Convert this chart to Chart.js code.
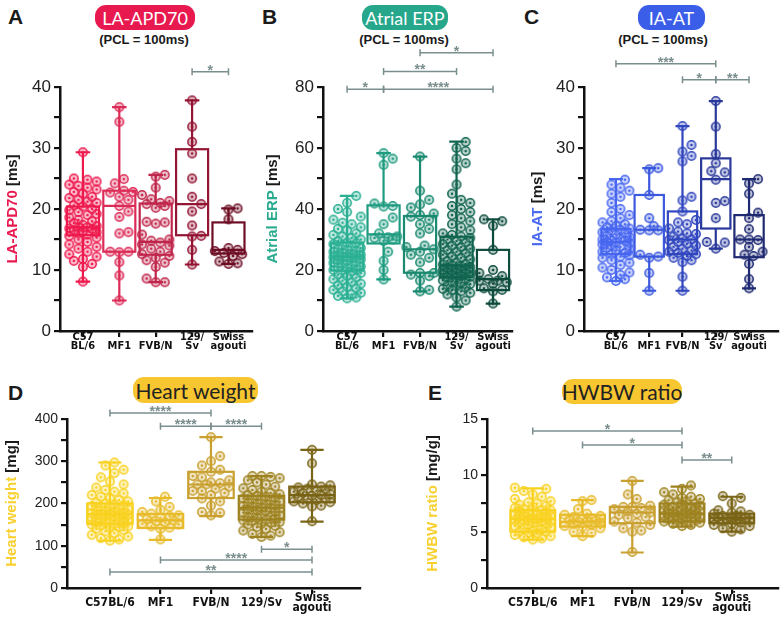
<!DOCTYPE html>
<html>
<head>
<meta charset="utf-8">
<script src="https://cdn.jsdelivr.net/npm/chart.js@4.4.0/dist/chart.umd.min.js"></script>
<style>
  body { margin: 0; background: #fff; width: 784px; height: 625px; position: relative; overflow: hidden; font-family: 'Liberation Sans', Arial, sans-serif; color: #1a1a1a; }
  canvas { position: absolute; }
  .letter { position: absolute; font-weight: bold; font-size: 21px; line-height: 21px; }
  .pill { position: absolute; border-radius: 11px; display: flex; align-items: center; justify-content: center; font-family: Lato, 'Open Sans', sans-serif; white-space: nowrap; }
  .pcl { position: absolute; font-weight: bold; font-size: 13px; line-height: 14px; transform: translateX(-50%); white-space: nowrap; }
</style>
</head>
<body>
<div class="letter" style="left:8px;top:6px">A</div>
<div class="letter" style="left:262px;top:6px">B</div>
<div class="letter" style="left:524px;top:6px">C</div>
<div class="letter" style="left:8px;top:382px">D</div>
<div class="letter" style="left:428px;top:382px">E</div>

<div class="pill" style="left:95px;top:5px;width:100px;height:25px;background:#e8194f;color:#fff;font-size:18px">LA-APD70</div>
<div class="pill" style="left:362px;top:5px;width:86px;height:25px;background:#26a68a;color:#fff;font-size:18px">Atrial ERP</div>
<div class="pill" style="left:638px;top:5px;width:67px;height:25px;background:#3b5ee8;color:#fff;font-size:18px">IA-AT</div>
<div class="pill" style="left:133px;top:377px;width:125px;height:26px;background:#f8c630;color:#222;font-size:21px">Heart weight</div>
<div class="pill" style="left:562px;top:379px;width:120px;height:25px;background:#f8c630;color:#222;font-size:21px">HWBW ratio</div>

<div class="pcl" style="left:144px;top:33px">(PCL = 100ms)</div>
<div class="pcl" style="left:404px;top:33px">(PCL = 100ms)</div>
<div class="pcl" style="left:663px;top:33px">(PCL = 100ms)</div>

<canvas id="cA" width="258" height="368" style="left:0;top:0"></canvas>
<canvas id="cB" width="258" height="368" style="left:262px;top:0"></canvas>
<canvas id="cC" width="261" height="368" style="left:523px;top:0"></canvas>
<canvas id="cD" width="390" height="265" style="left:0;top:360px"></canvas>
<canvas id="cE" width="394" height="265" style="left:390px;top:360px"></canvas>

<script>
// strain labels
const strainsTop = [['C57', 'BL/6'], 'MF1', 'FVB/N', ['129/', 'Sv'], ['Swiss', 'agouti']];
const strainsBottom = ['C57BL/6', 'MF1', 'FVB/N', '129/Sv', ['Swiss', 'agouti']];

// A: LA-APD70 [ms]
const apdC57 = [29.3, 25.0, 24.8, 24.5, 24.0, 23.8, 23.5, 23.2, 22.8, 22.5, 22.0, 21.8, 21.5, 21.2, 21.0, 20.6, 20.4, 20.0, 19.8, 19.5, 19.2, 19.0, 18.6, 18.2, 18.0, 17.7, 17.4, 17.2, 17.0, 17.0, 16.8, 16.7, 16.5, 16.4, 16.2, 16.0, 15.8, 15.6, 15.3, 15.0, 14.6, 14.2, 13.8, 13.5, 13.0, 12.6, 12.2, 11.8, 11.5, 11.0, 10.5, 8.1];
const apdMF1 = [36.7, 34.3, 24.9, 24.2, 23.0, 22.8, 22.7, 22.0, 21.5, 20.5, 19.6, 18.7, 16.2, 16.0, 13.0, 13.0, 12.9, 11.3, 9.1, 5.0];
const apdFVB = [25.6, 25.3, 23.5, 22.3, 21.6, 21.3, 21.0, 20.8, 20.5, 20.2, 17.9, 17.8, 17.6, 15.8, 15.0, 14.8, 14.5, 14.2, 14.0, 13.5, 13.0, 12.6, 12.3, 12.0, 11.6, 11.2, 10.5, 8.6, 8.0, 8.0];
const apd129 = [37.8, 33.5, 31.0, 29.1, 25.0, 22.0, 20.8, 19.6, 17.3, 15.6, 15.5, 13.3, 10.9];
const apdSwiss = [20.1, 19.9, 18.3, 13.6, 13.3, 13.1, 12.8, 12.6, 12.3, 11.4, 11.1, 11.0];
// min, q1, median, q3, max
const apdBox = [[8.1, 15.7, 17.0, 20.4, 29.3], [5.0, 13.0, 20.5, 23.0, 36.7], [8.0, 12.5, 14.6, 20.9, 25.6], [10.9, 15.7, 20.8, 29.8, 37.8], [11.0, 12.7, 13.3, 17.8, 20.1]];
const apdSig = [[3, 4, 42.5, '*']];

// B: Atrial ERP [ms]
const erpC57 = [44.3, 42.0, 40.0, 39.0, 37.5, 36.5, 35.5, 35.0, 34.0, 33.5, 33.0, 32.0, 31.5, 31.0, 30.5, 30.0, 29.5, 29.0, 28.8, 28.5, 28.0, 27.6, 27.2, 27.0, 26.5, 26.2, 26.0, 25.6, 25.2, 25.0, 24.8, 24.5, 24.4, 24.2, 24.0, 23.8, 23.5, 23.2, 23.0, 22.6, 22.3, 22.0, 21.6, 21.2, 21.0, 20.6, 20.2, 20.0, 19.8, 19.5, 19.0, 18.5, 18.0, 17.5, 17.0, 16.5, 16.0, 15.5, 15.0, 14.5, 14.0, 13.5, 13.0, 12.5, 12.0, 11.5, 11.0, 10.7];
const erpMF1 = [58.3, 56.5, 54.5, 41.8, 41.0, 40.8, 37.2, 35.0, 32.0, 31.0, 30.7, 30.5, 30.0, 29.5, 26.0, 23.0, 20.0, 16.9];
const erpFVB = [57.2, 46.0, 43.0, 41.5, 40.5, 38.5, 38.0, 37.5, 36.5, 35.0, 33.5, 32.0, 28.0, 27.5, 26.8, 26.0, 25.0, 24.0, 22.5, 19.0, 19.0, 18.5, 18.0, 16.5, 13.5, 13.0];
const erp129 = [62.0, 60.0, 59.0, 56.5, 55.0, 53.0, 48.0, 45.0, 43.0, 42.0, 41.0, 40.0, 39.0, 38.0, 37.0, 36.0, 35.0, 34.0, 33.0, 32.0, 31.5, 31.0, 30.5, 30.0, 29.5, 29.0, 28.5, 28.0, 27.5, 27.0, 26.5, 26.0, 25.5, 25.0, 24.5, 24.0, 23.5, 23.0, 22.5, 22.0, 21.8, 21.5, 21.2, 21.0, 20.8, 20.5, 20.2, 20.0, 19.8, 19.6, 19.4, 19.2, 19.0, 18.8, 18.5, 18.2, 18.0, 17.8, 17.6, 17.4, 17.0, 16.6, 16.2, 15.8, 15.4, 15.0, 14.6, 14.2, 13.8, 13.4, 13.0, 12.5, 12.0, 11.0, 10.0, 8.0];
const erpSwiss = [36.6, 36.0, 34.5, 26.6, 20.0, 19.0, 18.0, 17.0, 16.5, 16.5, 16.0, 15.5, 14.0, 13.5, 13.0, 9.0];
const erpBox = [[10.7, 19.8, 24.4, 29.0, 44.3], [16.9, 28.7, 31.7, 41.2, 58.3], [13.0, 19.1, 26.8, 37.7, 57.2], [8.0, 17.6, 21.5, 30.9, 62.1], [9.0, 13.4, 17.0, 26.6, 36.6]];
const erpSig = [[2, 4, 91.2, '*'], [1, 3, 85.1, '**'], [0, 1, 79.3, '*'], [1, 4, 79.3, '****']];

// C: IA-AT [ms]
const atC57 = [24.8, 24.0, 23.5, 23.0, 22.5, 22.0, 21.0, 20.0, 19.5, 19.0, 18.5, 18.0, 17.8, 17.5, 17.2, 17.0, 16.8, 16.6, 16.4, 16.2, 16.0, 15.8, 15.6, 15.4, 15.2, 15.0, 14.9, 14.8, 14.6, 14.5, 14.4, 14.2, 14.0, 13.8, 13.6, 13.4, 13.2, 13.0, 12.8, 12.6, 12.4, 12.2, 12.0, 11.6, 11.2, 10.8, 10.4, 10.0, 9.6, 9.2, 8.8, 8.5, 8.2];
const atMF1 = [26.7, 26.5, 22.3, 18.5, 17.2, 16.6, 16.5, 16.5, 12.5, 12.2, 12.0, 9.5, 6.6];
const atFVB = [33.6, 30.5, 29.4, 28.7, 27.8, 22.0, 21.4, 19.6, 18.2, 17.8, 17.5, 16.8, 16.3, 16.0, 15.9, 15.5, 15.2, 15.0, 14.9, 14.6, 14.3, 14.0, 13.8, 13.5, 13.2, 13.0, 12.8, 12.6, 12.3, 12.0, 11.6, 11.3, 8.9, 6.6];
const at129 = [37.7, 33.5, 29.0, 27.5, 26.2, 26.0, 24.8, 21.3, 21.0, 18.5, 14.6, 14.5, 13.5];
const atSwiss = [24.9, 24.2, 22.5, 19.4, 18.5, 16.7, 15.0, 15.0, 14.9, 13.8, 13.0, 12.5, 12.3, 11.0, 8.5, 7.0];
const atBox = [[8.2, 12.6, 14.6, 16.7, 24.9], [6.6, 12.2, 16.6, 22.3, 26.7], [6.6, 12.6, 15.0, 19.6, 33.6], [13.5, 16.8, 24.9, 28.3, 37.7], [7.0, 12.1, 15.0, 19.0, 24.9]];
const atSig = [[0, 3, 43.8, '***'], [2, 3, 41.2, '*'], [3, 4, 41.2, '**']];

// D: Heart weight [mg]
const hwC57 = [297, 290, 280, 272, 262, 252, 245, 238, 232, 228, 224, 220, 216, 212, 208, 205, 202, 200, 198, 196, 194, 192, 190, 188, 186, 184, 182, 180, 178, 177, 176, 175, 174, 173, 172, 170, 168, 166, 165, 164, 162, 160, 158, 156, 155, 154, 152, 150, 148, 146, 144, 142, 140, 137, 134, 130, 126, 122, 118, 115, 112];
const hwMF1 = [216, 205, 192, 185, 180, 176, 172, 170, 166, 163, 160, 158, 155, 152, 150, 146, 143, 140, 115];
const hwFVB = [357, 312, 300, 290, 280, 275, 265, 262, 255, 250, 248, 245, 245, 240, 235, 230, 230, 225, 220, 212, 205, 195, 180, 178, 172];
const hw129 = [265, 265, 263, 260, 255, 250, 245, 240, 236, 232, 228, 225, 222, 220, 218, 216, 214, 212, 210, 208, 206, 204, 202, 200, 198, 196, 194, 192, 190, 189, 188, 186, 184, 182, 180, 178, 176, 174, 172, 170, 168, 166, 164, 162, 160, 158, 156, 154, 152, 150, 147, 144, 140, 136, 132, 128, 124, 121];
const hwSwiss = [327, 295, 245, 243, 240, 238, 235, 233, 230, 228, 225, 222, 220, 218, 215, 212, 210, 208, 205, 203, 200, 195, 193, 158];
const hwBox = [[112, 152, 175, 200, 297], [114, 142, 160, 175, 213], [170, 213, 245, 275, 357], [121, 162, 190, 218, 265], [157, 203, 220, 240, 327]];
const hwSig = [[0, 2, 414, '****'], [1, 2, 383, '****'], [2, 3, 383, '****'], [3, 4, 92, '*'], [1, 4, 66, '****'], [0, 4, 38, '**']];

// E: HWBW ratio [mg/g]
const hwbwC57 = [8.9, 8.8, 8.6, 8.3, 8.1, 7.9, 7.7, 7.6, 7.5, 7.4, 7.3, 7.2, 7.1, 7.0, 6.9, 6.9, 6.8, 6.7, 6.7, 6.6, 6.5, 6.5, 6.4, 6.4, 6.3, 6.3, 6.2, 6.2, 6.1, 6.1, 6.0, 6.0, 5.9, 5.9, 5.8, 5.8, 5.7, 5.6, 5.5, 5.5, 5.4, 5.3, 5.2, 5.1, 5.0, 5.0, 4.9, 4.8, 4.7, 4.6, 4.5, 4.4, 4.3];
const hwbwMF1 = [7.8, 7.7, 7.0, 6.6, 6.5, 6.4, 6.3, 6.2, 6.1, 6.0, 6.0, 5.9, 5.9, 5.8, 5.7, 5.6, 5.5, 5.4, 5.3, 5.0, 4.9, 4.6];
const hwbwFVB = [9.5, 8.3, 7.9, 7.3, 7.2, 7.2, 7.1, 7.0, 6.8, 6.7, 6.6, 6.5, 6.3, 6.2, 5.9, 5.8, 5.6, 5.3, 5.1, 5.0, 3.2];
const hwbw129 = [9.1, 8.8, 8.5, 8.3, 8.1, 8.0, 7.9, 7.8, 7.7, 7.6, 7.5, 7.4, 7.4, 7.3, 7.2, 7.2, 7.1, 7.0, 7.0, 6.9, 6.9, 6.8, 6.8, 6.7, 6.7, 6.6, 6.6, 6.5, 6.5, 6.4, 6.4, 6.3, 6.3, 6.2, 6.2, 6.1, 6.1, 6.0, 6.0, 5.9, 5.9, 5.8, 5.7, 5.6, 5.5];
const hwbwSwiss = [8.15, 8.0, 7.5, 6.9, 6.8, 6.7, 6.6, 6.5, 6.4, 6.4, 6.3, 6.3, 6.2, 6.2, 6.1, 6.1, 6.0, 6.0, 5.9, 5.8, 5.7, 5.6, 5.5, 5.3, 5.2, 5.0];
const hwbwBox = [[4.3, 5.0, 6.1, 6.9, 8.85], [4.6, 5.45, 5.9, 6.5, 7.8], [3.15, 5.75, 6.7, 7.2, 9.5], [5.45, 5.9, 6.6, 7.5, 9.0], [5.0, 5.75, 6.2, 6.6, 8.1]];
const hwbwSig = [[0, 3, 13.93, '*'], [1, 3, 12.69, '*'], [3, 4, 11.36, '**']];

const redShades = ['#ee1a4e', '#dc2b57', '#c0264b', '#941434', '#6e0e25'];
const tealShades = ['#2bb094', '#1f9c80', '#1a8a70', '#116550', '#0e4c3d'];
const blueShades = ['#4867f0', '#3b58de', '#3147bf', '#29389b', '#1f2a72'];
const goldShades = ['#f9d220', '#e8bb2a', '#c9a030', '#9e8320', '#7a6416'];

const BRACKET = '#7b8e8e';

// pick a condensed bold face for the strain labels if one is installed
function hasFont(name) {
  const g = document.createElement('canvas').getContext('2d');
  const t = 'FVB/N agouti 129/Sv C57BL/6';
  g.font = 'bold 40px monospace';
  const w0 = g.measureText(t).width;
  g.font = 'bold 40px "' + name + '", monospace';
  return g.measureText(t).width !== w0;
}
let xFamily = '"Liberation Sans", Arial', xSizeTop = 11, xSizeBottom = 12;
if (hasFont('Liberation Sans Narrow')) { xFamily = '"Liberation Sans Narrow"'; xSizeTop = 13; xSizeBottom = 14; }
else if (hasFont('DejaVu Sans Condensed')) { xFamily = '"DejaVu Sans Condensed"'; xSizeTop = 11; xSizeBottom = 12; }

// ring marker with a centre dot
function dotImg(color) {
  const c = document.createElement('canvas');
  c.width = 12; c.height = 12;
  const g = c.getContext('2d');
  g.beginPath(); g.arc(6, 6, 4.2, 0, Math.PI * 2);
  g.globalAlpha = 0.28; g.fillStyle = color; g.fill();
  g.globalAlpha = 1; g.lineWidth = 1.5; g.strokeStyle = color; g.stroke();
  g.beginPath(); g.arc(6, 6, 1.3, 0, Math.PI * 2); g.fillStyle = color; g.fill();
  return c;
}

// simple beeswarm so dots in the same value range spread sideways
function swarm(vals, dotX, dotY, maxX) {
  const order = vals.map((v, i) => i).sort((a, b) => vals[a] - vals[b]);
  const placed = [];
  const off = new Array(vals.length).fill(0);
  const cands = [0];
  for (let k = 0.5; k <= maxX / dotX + 1e-9; k += 0.5) cands.push(k, -k);
  order.forEach(i => {
    const yn = vals[i] / dotY;
    let best = 0, bestD = -1;
    for (const c of cands) {
      let d = Infinity;
      placed.forEach(p => {
        const dy = p.y - yn;
        if (Math.abs(dy) < 1) d = Math.min(d, Math.hypot(p.x - c, dy));
      });
      if (d >= 1) { best = c; break; }
      if (d > bestD) { bestD = d; best = c; }
    }
    placed.push({ x: best, y: yn });
    off[i] = best * dotX;
  });
  return off;
}

function makePanel(p) {
  const datasets = p.groups.map((vals, g) => {
    const off = swarm(vals, p.dotX, p.dotY, p.boxW / 2 - 0.03);
    return {
      type: 'scatter',
      data: vals.map((v, i) => ({ x: g + off[i], y: v })),
      pointStyle: dotImg(p.colors[g]),
      pointRadius: 4.5,
      clip: false
    };
  });

  const boxes = {
    id: 'boxes',
    beforeDatasetsDraw(chart) {
      const { ctx, scales: { x, y } } = chart;
      ctx.save();
      ctx.lineWidth = 2.2;
      p.boxes.forEach((s, g) => {
        const cx = x.getPixelForValue(g);
        const hw = x.getPixelForValue(g + p.boxW / 2) - cx;
        const cw = x.getPixelForValue(g + p.capW / 2) - cx;
        const [mn, q1, md, q3, mx] = s.map(v => y.getPixelForValue(v));
        ctx.strokeStyle = p.colors[g];
        ctx.beginPath();
        ctx.moveTo(cx, q1); ctx.lineTo(cx, mn);
        ctx.moveTo(cx - cw, mn); ctx.lineTo(cx + cw, mn);
        ctx.moveTo(cx, q3); ctx.lineTo(cx, mx);
        ctx.moveTo(cx - cw, mx); ctx.lineTo(cx + cw, mx);
        ctx.moveTo(cx - hw, md); ctx.lineTo(cx + hw, md);
        ctx.stroke();
        ctx.strokeRect(cx - hw, q3, hw * 2, q1 - q3);
      });
      ctx.restore();
    }
  };

  const extras = {
    id: 'extras',
    afterDraw(chart) {
      const { ctx, chartArea, scales: { x, y } } = chart;
      ctx.save();
      // significance brackets
      ctx.strokeStyle = BRACKET;
      ctx.fillStyle = BRACKET;
      ctx.lineWidth = 1.5;
      ctx.font = 'bold 14px "Liberation Sans", Arial';
      ctx.textAlign = 'center';
      ctx.textBaseline = 'alphabetic';
      p.sig.forEach(([a, b, lvl, txt]) => {
        const x1 = x.getPixelForValue(a), x2 = x.getPixelForValue(b), yy = y.getPixelForValue(lvl);
        ctx.beginPath();
        ctx.moveTo(x1, yy); ctx.lineTo(x2, yy);
        ctx.moveTo(x1, yy - 3.5); ctx.lineTo(x1, yy + 3.5);
        ctx.moveTo(x2, yy - 3.5); ctx.lineTo(x2, yy + 3.5);
        ctx.stroke();
        ctx.fillText(txt, (x1 + x2) / 2, yy + 3);
      });
      // two-colour axis title
      ctx.setTransform(1, 0, 0, 1, 0, 0);
      ctx.translate(p.titleX, (chartArea.top + chartArea.bottom) / 2);
      ctx.rotate(-Math.PI / 2);
      ctx.font = 'bold 15px "Liberation Sans", Arial';
      ctx.textAlign = 'left';
      ctx.textBaseline = 'middle';
      const w1 = ctx.measureText(p.title[0]).width;
      const w2 = ctx.measureText(p.title[1]).width;
      const sx = -(w1 + w2) / 2;
      ctx.fillStyle = p.titleColor;
      ctx.fillText(p.title[0], sx, 0);
      ctx.fillStyle = '#1a1a1a';
      ctx.fillText(p.title[1], sx + w1, 0);
      ctx.restore();
    }
  };

  const canvas = document.getElementById(p.id);
  new Chart(canvas, {
    type: 'scatter',
    data: { datasets },
    plugins: [boxes, extras],
    options: {
      responsive: false,
      animation: false,
      events: [],
      layout: { padding: { left: 0, top: p.top, right: canvas.width - p.right, bottom: 0 } },
      plugins: { legend: { display: false }, tooltip: { enabled: false } },
      scales: {
        x: {
          type: 'linear', min: p.xMin, max: p.xMax,
          afterBuildTicks: s => { s.ticks = [0, 1, 2, 3, 4].map(v => ({ value: v })); },
          afterFit: s => { s.height = canvas.height - p.bottom; },
          ticks: {
            callback: (v, i) => p.labels[i],
            autoSkip: false, maxRotation: 0, padding: p.xPad,
            crossAlign: p.cross,
            color: '#111',
            font: { family: xFamily, weight: 'bold', size: p.xSize, lineHeight: p.xLine }
          },
          grid: { display: true, drawOnChartArea: false, drawTicks: true, tickLength: 6, color: '#111', lineWidth: 2.2 },
          border: { display: true, color: '#111', width: 2.5 }
        },
        y: {
          min: 0, max: p.yMax,
          afterFit: s => { s.width = p.left; },
          ticks: {
            stepSize: p.yStep / 2,
            callback: v => (Math.abs(v / p.yStep - Math.round(v / p.yStep)) < 1e-6 ? v : ''),
            color: '#222', padding: 3,
            font: { family: '"Liberation Sans", Arial', size: p.yFont }
          },
          grid: { display: true, drawOnChartArea: false, drawTicks: true, tickLength: 6, color: '#111', lineWidth: 2.2 },
          border: { display: true, color: '#111', width: 2.5 }
        }
      }
    }
  });
}

makePanel({
  id: 'cA', groups: [apdC57, apdMF1, apdFVB, apd129, apdSwiss], boxes: apdBox, sig: apdSig, colors: redShades,
  labels: strainsTop, cross: 'far', xLine: 0.85, xPad: 0, xSize: xSizeTop,
  left: 60, right: 253, top: 87, bottom: 331, xMin: -0.63, xMax: 4.66,
  yMax: 40, yStep: 10, yFont: 17, dotX: 0.25, dotY: 1.5, boxW: 0.88, capW: 0.4,
  title: ['LA-APD70', ' [ms]'], titleColor: '#e8194f', titleX: 13
});
makePanel({
  id: 'cB', groups: [erpC57, erpMF1, erpFVB, erp129, erpSwiss], boxes: erpBox, sig: erpSig, colors: tealShades,
  labels: strainsTop, cross: 'far', xLine: 0.85, xPad: 0, xSize: xSizeTop,
  left: 61, right: 250, top: 87, bottom: 331, xMin: -0.66, xMax: 4.52,
  yMax: 80, yStep: 20, yFont: 17, dotX: 0.25, dotY: 3.0, boxW: 0.88, capW: 0.4,
  title: ['Atrial ERP', ' [ms]'], titleColor: '#2aab8f', titleX: 11
});
makePanel({
  id: 'cC', groups: [atC57, atMF1, atFVB, at129, atSwiss], boxes: atBox, sig: atSig, colors: blueShades,
  labels: strainsTop, cross: 'far', xLine: 0.85, xPad: 0, xSize: xSizeTop,
  left: 61, right: 255, top: 87, bottom: 331, xMin: -0.96, xMax: 4.87,
  yMax: 40, yStep: 10, yFont: 17, dotX: 0.27, dotY: 1.5, boxW: 0.88, capW: 0.42,
  title: ['IA-AT', ' [ms]'], titleColor: '#4a6af0', titleX: 15
});
makePanel({
  id: 'cD', groups: [hwC57, hwMF1, hwFVB, hw129, hwSwiss], boxes: hwBox, sig: hwSig, colors: goldShades,
  labels: strainsBottom, cross: 'center', xLine: 0.8, xPad: 4, xSize: xSizeBottom,
  left: 67, right: 360, top: 59, bottom: 228, xMin: -0.85, xMax: 4.95,
  yMax: 400, yStep: 100, yFont: 14, dotX: 0.18, dotY: 21, boxW: 0.9, capW: 0.46,
  title: ['Heart weight', ' [mg]'], titleColor: '#f8d030', titleX: 12
});
makePanel({
  id: 'cE', groups: [hwbwC57, hwbwMF1, hwbwFVB, hwbw129, hwbwSwiss], boxes: hwbwBox, sig: hwbwSig, colors: goldShades,
  labels: strainsBottom, cross: 'center', xLine: 0.8, xPad: 4, xSize: xSizeBottom,
  left: 97, right: 390, top: 59, bottom: 228, xMin: -0.92, xMax: 4.94,
  yMax: 15, yStep: 5, yFont: 14, dotX: 0.18, dotY: 0.8, boxW: 0.9, capW: 0.46,
  title: ['HWBW ratio', ' [mg/g]'], titleColor: '#f8d030', titleX: 43
});
</script>
</body>
</html>
